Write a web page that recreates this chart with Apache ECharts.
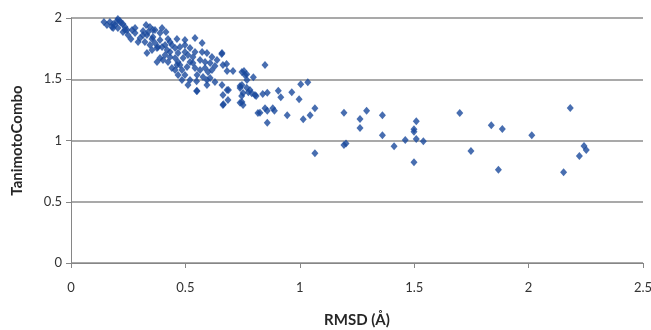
<!DOCTYPE html>
<html>
<head>
<meta charset="utf-8">
<script src="https://cdn.jsdelivr.net/npm/echarts@6/dist/echarts.min.js"></script>
<style>
  html, body { margin: 0; padding: 0; background: #fff; }
  #chart { width: 651px; height: 330px; }
</style>
</head>
<body>
<div id="chart"></div>
<script>
// RMSD (x) vs TanimotoCombo (y)
var rmsd = [
  0.144, 0.157, 0.170, 0.184, 0.179, 0.192, 0.201, 0.205, 0.214, 0.219,
  0.227, 0.205, 0.236, 0.245, 0.227, 0.267, 0.236, 0.184, 0.262, 0.328,
  0.345, 0.358, 0.315, 0.367, 0.337, 0.332, 0.315, 0.358, 0.389, 0.415,
  0.302, 0.323, 0.345, 0.367, 0.389, 0.424, 0.463, 0.354, 0.380, 0.332,
  0.354, 0.376, 0.398, 0.420, 0.441, 0.455, 0.476, 0.498, 0.376, 0.402,
  0.433, 0.455, 0.468, 0.490, 0.511, 0.533, 0.441, 0.463, 0.485, 0.507,
  0.533, 0.468, 0.542, 0.573, 0.551, 0.564, 0.586, 0.599, 0.616, 0.577,
  0.594, 0.608, 0.594, 0.551, 0.573, 0.594, 0.616, 0.638, 0.660, 0.664,
  0.682, 0.708, 0.629, 0.660, 0.682, 0.664, 0.686, 0.664, 0.747, 0.760,
  0.769, 0.747, 0.739, 0.752, 0.782, 0.804, 0.747, 0.752, 0.817, 0.659,
  0.680, 0.848, 0.756, 0.768, 0.797, 0.549, 0.549, 0.688, 0.666, 0.739,
  0.768, 0.775, 0.790, 0.809, 0.746, 0.739, 0.838, 0.858, 0.906, 0.917,
  0.965, 0.997, 1.004, 1.035, 0.826, 0.848, 0.858, 0.882, 0.889, 0.858,
  0.945, 1.015, 1.045, 1.066, 1.066,
  0.280, 0.293, 0.411, 0.433, 0.468, 0.498, 0.520, 0.411, 0.389, 0.498,
  0.520, 0.542, 0.476, 0.424, 0.455, 0.498, 0.520, 0.564, 0.586, 0.608,
  0.629, 0.542, 0.433, 0.398, 0.280, 0.249, 0.485, 0.511,
  1.193, 1.193, 1.202, 1.263, 1.263, 1.292, 1.361, 1.361, 1.412, 1.461,
  1.499, 1.499, 1.499, 1.509, 1.509, 1.540, 1.699, 1.748, 1.837, 1.868,
  1.885, 2.014, 2.182, 2.153, 2.222, 2.242, 2.252
];
var tanimoto = [
  1.967, 1.943, 1.967, 1.951, 1.927, 1.943, 1.976, 1.992, 1.976, 1.959,
  1.951, 1.918, 1.927, 1.902, 1.886, 1.902, 1.902, 1.918, 1.829, 1.943,
  1.927, 1.902, 1.894, 1.902, 1.886, 1.861, 1.861, 1.845, 1.878, 1.886,
  1.837, 1.804, 1.780, 1.796, 1.820, 1.829, 1.829, 1.829, 1.763, 1.714,
  1.739, 1.755, 1.763, 1.739, 1.780, 1.755, 1.763, 1.780, 1.641, 1.657,
  1.682, 1.673, 1.641, 1.673, 1.698, 1.682, 1.592, 1.616, 1.576, 1.600,
  1.633, 1.535, 1.837, 1.796, 1.535, 1.576, 1.592, 1.559, 1.576, 1.518,
  1.494, 1.510, 1.453, 1.404, 1.722, 1.714, 1.682, 1.657, 1.714, 1.616,
  1.567, 1.567, 1.478, 1.453, 1.412, 1.371, 1.331, 1.290, 1.559, 1.535,
  1.494, 1.453, 1.429, 1.388, 1.412, 1.371, 1.314, 1.290, 1.224, 1.706,
  1.624, 1.616, 1.567, 1.540, 1.516, 1.483, 1.404, 1.412, 1.296, 1.445,
  1.431, 1.393, 1.385, 1.363, 1.363, 1.309, 1.380, 1.390, 1.407, 1.353,
  1.393, 1.336, 1.459, 1.475, 1.227, 1.263, 1.243, 1.263, 1.243, 1.145,
  1.206, 1.173, 1.206, 1.263, 0.896,
  1.878, 1.804, 1.780, 1.722, 1.714, 1.722, 1.755, 1.698, 1.673, 1.820,
  1.641, 1.592, 1.616, 1.641, 1.576, 1.535, 1.494, 1.657, 1.641, 1.633,
  1.608, 1.722, 1.804, 1.918, 1.918, 1.861, 1.494, 1.453,
  1.227, 0.963, 0.976, 1.176, 1.102, 1.243, 1.206, 1.042, 0.953, 1.004,
  0.822, 1.091, 1.072, 1.157, 1.012, 0.993, 1.224, 0.914, 1.124, 0.762,
  1.094, 1.042, 1.265, 0.740, 0.873, 0.955, 0.922
];

var points = rmsd.map(function (x, i) { return [x, tanimoto[i]]; });

var chartDom = document.getElementById('chart');
var myChart = echarts.init(chartDom);
var fontFamily = 'Lato, "Open Sans", sans-serif';

var option = {
  animation: false,
  grid: { left: 71, right: 8, top: 18, bottom: 67, outerBoundsMode: 'none' },
  xAxis: {
    type: 'value',
    min: 0,
    max: 2.5,
    interval: 0.5,
    name: 'RMSD (Å)',
    nameLocation: 'middle',
    nameGap: 50,
    nameTextStyle: { fontFamily: fontFamily, fontSize: 15, fontWeight: 'bold', color: '#262626' },
    axisLine: { lineStyle: { color: '#868686', width: 1 } },
    axisTick: { show: true, length: 5, lineStyle: { color: '#868686' } },
    axisLabel: { margin: 18, fontFamily: fontFamily, fontSize: 13, color: '#333' },
    splitLine: { show: false }
  },
  yAxis: {
    type: 'value',
    min: 0,
    max: 2,
    interval: 0.5,
    name: 'TanimotoCombo',
    nameLocation: 'middle',
    nameGap: 46,
    nameTextStyle: { fontFamily: fontFamily, fontSize: 15, fontWeight: 'bold', color: '#262626' },
    axisLine: { show: true, lineStyle: { color: '#868686', width: 1 } },
    axisTick: { show: true, length: 5, lineStyle: { color: '#868686' } },
    axisLabel: { margin: 9, fontFamily: fontFamily, fontSize: 13, color: '#333' },
    splitLine: { show: true, lineStyle: { color: '#8c8c8c', width: 1.5 } }
  },
  series: [
    {
      type: 'scatter',
      symbol: 'diamond',
      symbolSize: [7, 8],
      itemStyle: { color: '#1a4a9c' },
      data: points
    }
  ]
};

option && myChart.setOption(option);
</script>
</body>
</html>
